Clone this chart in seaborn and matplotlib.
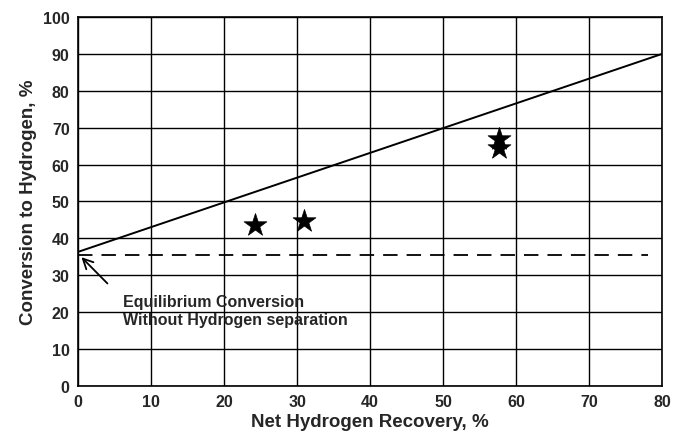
import matplotlib
matplotlib.use("Agg")
import matplotlib.pyplot as plt
import seaborn as sns
import pandas as pd

# Data
recovery = [24.2, 31.0, 57.6, 57.6]
conversion = [43.6, 44.8, 66.8, 64.5]
line_x = [0, 80]
line_y = [36.3, 90.0]
equil_x = [0, 78]
equil_y = [35.5, 35.5]
xticks = list(range(0, 81, 10))
yticks = list(range(0, 101, 10))

sns.set_style("white")
plt.rcParams['font.family'] = ['Liberation Sans', 'DejaVu Sans']
plt.rcParams['font.weight'] = 'bold'

fig = plt.figure(figsize=(6.73, 4.39), dpi=100)
ax = fig.add_axes([0.1159, 0.119, 0.868, 0.84])

df_pts = pd.DataFrame({"rec": recovery, "conv": conversion})
df_line = pd.DataFrame({"x": line_x, "y": line_y})
df_eq = pd.DataFrame({"x": equil_x, "y": equil_y})

sns.lineplot(data=df_line, x="x", y="y", ax=ax, color="black", linewidth=1.4)
sns.lineplot(data=df_eq, x="x", y="y", ax=ax, color="black", linewidth=1.3,
             linestyle=(0, (8, 5)))
sns.scatterplot(data=df_pts, x="rec", y="conv", ax=ax, marker="*", s=300,
                color="black", edgecolor="black", linewidth=0.5, zorder=5)

ax.set_xlim(0, 80)
ax.set_ylim(0, 100)
ax.set_xticks(xticks)
ax.set_yticks(yticks)
ax.grid(True, color="black", linewidth=1.0)
ax.set_axisbelow(True)
for s in ax.spines.values():
    s.set_color("black")
    s.set_linewidth(1.2)
ax.tick_params(axis="both", direction="out", length=4, width=1.2, color="black",
               labelsize=11.5, pad=2)
for lab in ax.get_xticklabels() + ax.get_yticklabels():
    lab.set_fontweight("bold")

ax.set_xlabel("Net Hydrogen Recovery, %", fontsize=13.5, fontweight="bold", labelpad=3)
ax.set_ylabel("Conversion to Hydrogen, %", fontsize=13.5, fontweight="bold", labelpad=4)

ax.annotate("", xy=(0.2, 35.4), xytext=(4.3, 27.2),
            arrowprops=dict(arrowstyle="->", color="black", lw=1.3,
                            mutation_scale=18))
ax.text(6.2, 20.4, "Equilibrium Conversion\nWithout Hydrogen separation",
        fontsize=11.5, fontweight="bold", va="center", ha="left", linespacing=1.25)

fig.savefig("out.png", dpi=100)
